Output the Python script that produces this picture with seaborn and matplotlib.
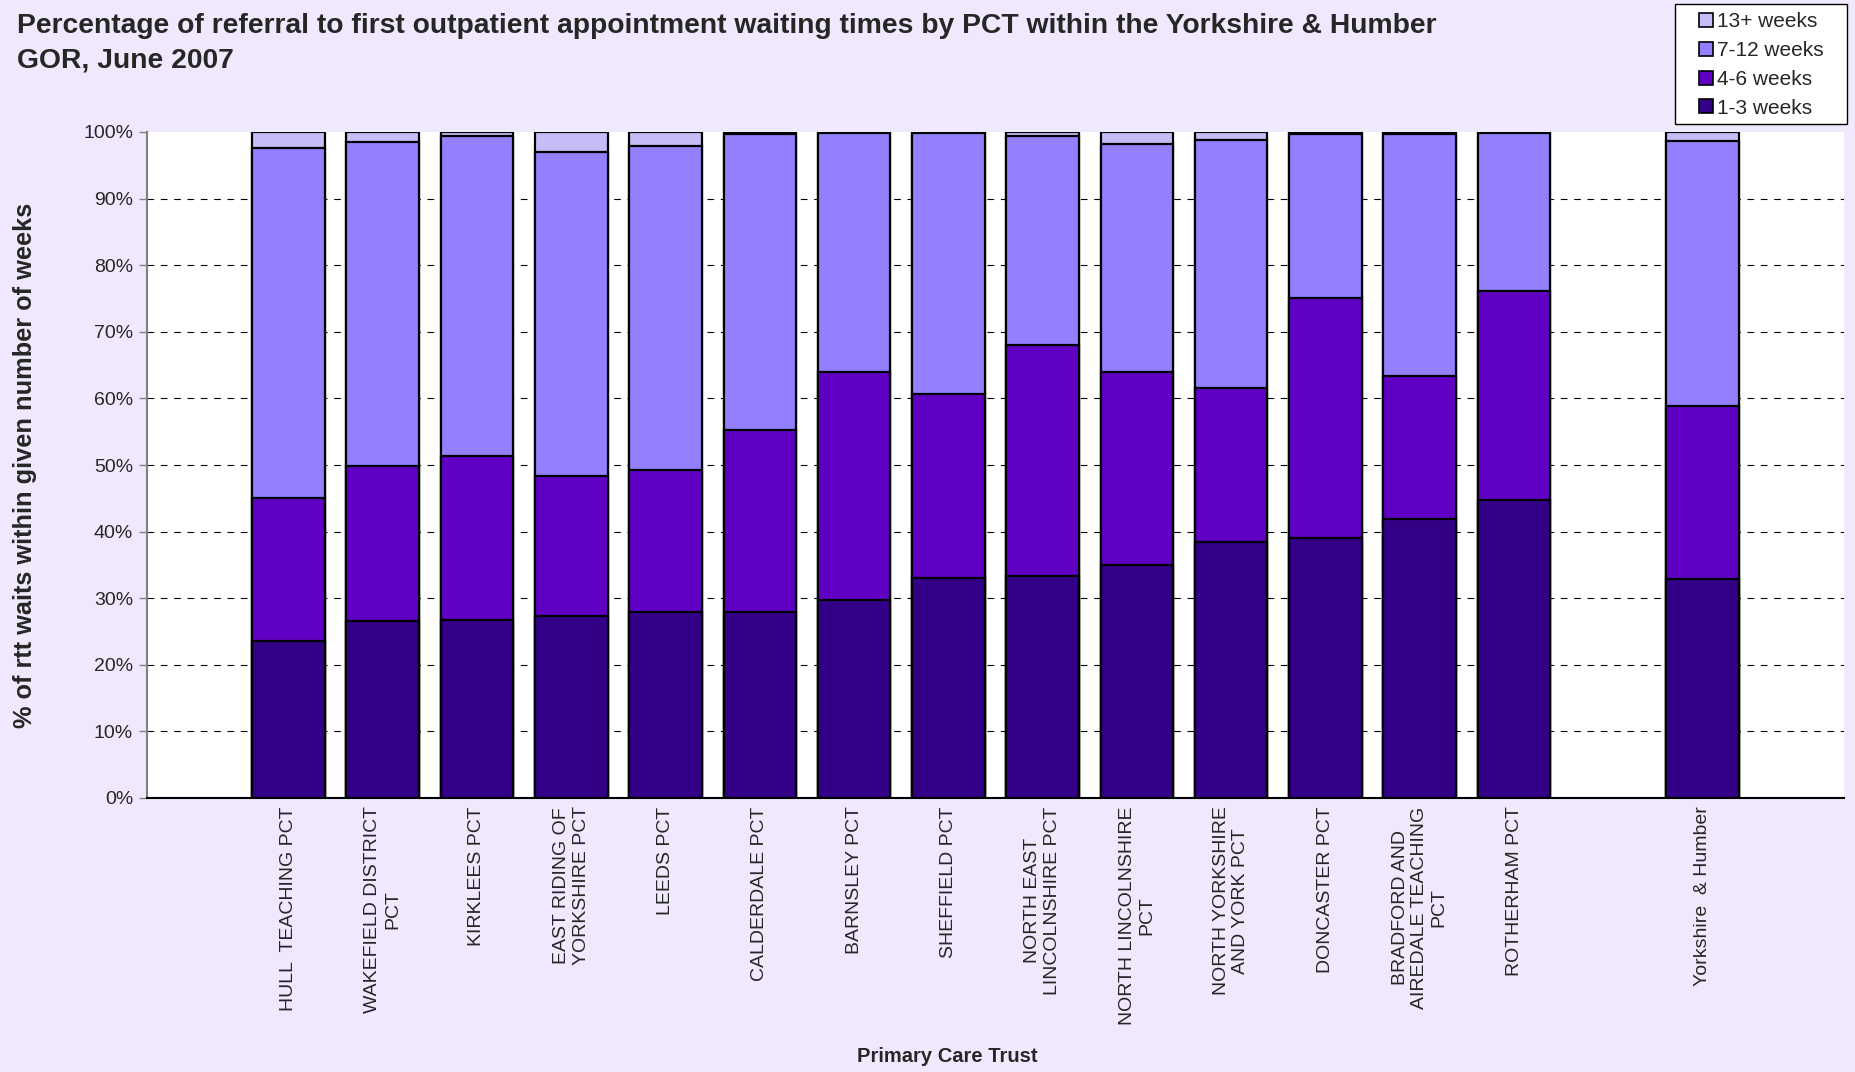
import numpy as np
import pandas as pd
import matplotlib
matplotlib.use("Agg")
import matplotlib.pyplot as plt
import seaborn as sns
from matplotlib.ticker import FixedLocator, PercentFormatter
from matplotlib.lines import Line2D
from matplotlib.patches import Rectangle

# -------------------------------
# Data (% of waits)
# -------------------------------
trusts = [
    "HULL  TEACHING PCT",
    "WAKEFIELD DISTRICT\nPCT",
    "KIRKLEES PCT",
    "EAST RIDING OF\nYORKSHIRE PCT",
    "LEEDS PCT",
    "CALDERDALE PCT",
    "BARNSLEY PCT",
    "SHEFFIELD PCT",
    "NORTH EAST\nLINCOLNSHIRE PCT",
    "NORTH LINCOLNSHIRE\nPCT",
    "NORTH YORKSHIRE\nAND YORK PCT",
    "DONCASTER PCT",
    "BRADFORD AND\nAIREDALE TEACHING\nPCT",
    "ROTHERHAM PCT",
    "Yorkshire  & Humber",
]

weeks_1_3 = [23.6, 26.6, 26.8, 27.4, 27.9, 27.9, 29.7, 33.0, 33.4, 35.0, 38.4, 39.1, 41.9, 44.8, 32.9]
weeks_4_6 = [21.5, 23.3, 24.5, 20.9, 21.3, 27.3, 34.2, 27.6, 34.6, 28.9, 23.1, 36.0, 21.5, 31.4, 25.9]
weeks_7_12 = [52.5, 48.6, 48.1, 48.7, 48.7, 44.45, 36.0, 39.3, 31.4, 34.3, 37.3, 24.6, 36.25, 23.7, 39.9]
weeks_13p = [2.4, 1.5, 0.6, 3.0, 2.1, 0.35, 0.1, 0.1, 0.6, 1.8, 1.2, 0.3, 0.35, 0.1, 1.3]

series_names = ["1-3 weeks", "4-6 weeks", "7-12 weeks", "13+ weeks"]
series_colors = ["#330088", "#6000C4", "#9380FF", "#C6BDF6"]

# slot order on the axis, with empty gaps
slots = ["gap0"] + trusts[:14] + ["gap1", trusts[14], "gap2"]

df = pd.DataFrame({
    "Trust": trusts,
    "1-3 weeks": weeks_1_3,
    "4-6 weeks": weeks_4_6,
    "7-12 weeks": weeks_7_12,
    "13+ weeks": weeks_13p,
})
cum = df[series_names].cumsum(axis=1)
cum["Trust"] = df["Trust"]

# -------------------------------
# Plot
# -------------------------------
sns.set_style("white")
plt.rcParams["font.family"] = ["Liberation Sans", "DejaVu Sans"]

W, H = 1856, 1072
fig = plt.figure(figsize=(W / 100, H / 100), dpi=100)
fig.patch.set_facecolor("#F0E9FD")
ax = fig.add_axes([147 / W, 1 - 798 / H, (1844 - 147) / W, (798 - 132) / H])
ax.set_facecolor("white")

# draw stacked bars as cumulative layers, tallest first
for name, color in reversed(list(zip(series_names, series_colors))):
    sns.barplot(data=cum, x="Trust", y=name, order=slots, color=color,
                width=0.77, edgecolor="black", linewidth=1.6,
                saturation=1, ax=ax, zorder=3)

ax.set_ylim(0, 100)
ax.set_xlim(-0.5, len(slots) - 0.5)
ax.yaxis.set_major_locator(FixedLocator(np.arange(0, 101, 10)))
ax.yaxis.set_major_formatter(PercentFormatter(decimals=0))
for y in range(10, 100, 10):
    ax.axhline(y, color="black", linestyle=(0, (6, 6)), linewidth=0.8, zorder=1)

# ticks at slot boundaries, labels at slot centres
ax.set_xticks(np.arange(-0.5, len(slots), 1))
ax.set_xticklabels([])
ax.set_xticks(np.arange(len(slots)), minor=True)
labels = ["" if s.startswith("gap") else s for s in slots]
ax.set_xticklabels(labels, minor=True, rotation=90, fontsize=14,
                   va="top", ha="center", multialignment="center")
ax.tick_params(axis="x", which="major", direction="out", length=6, width=1, color="black")
ax.tick_params(axis="x", which="minor", length=0, pad=6)
ax.tick_params(axis="y", direction="out", length=6, width=1, color="#808080",
               labelsize=14, left=True, pad=4)

for side in ["top", "right"]:
    ax.spines[side].set_visible(False)
ax.spines["left"].set_color("#808080")
ax.spines["left"].set_linewidth(1.5)
ax.spines["bottom"].set_color("black")
ax.spines["bottom"].set_linewidth(1.5)

ax.set_xlabel("")
ax.set_ylabel("% of rtt waits within given number of weeks", fontsize=18.3,
              fontweight="bold")
ax.yaxis.set_label_coords(-110 / 1697, 0.5)

fig.text(947 / W, 1 - 1057 / H, "Primary Care Trust", ha="center", va="center",
         fontsize=14.5, fontweight="bold")
fig.text(17 / W, 1 - 13 / H,
         "Percentage of referral to first outpatient appointment waiting times by PCT within the Yorkshire & Humber\nGOR, June 2007",
         ha="left", va="top", fontsize=20.3, fontweight="bold", linespacing=1.4)

# legend box drawn separately so its padding matches
fig.patches.append(Rectangle((1675 / W, 1 - 124 / H), 172 / W, 120 / H,
                             transform=fig.transFigure, facecolor="white",
                             edgecolor="black", linewidth=1.0, zorder=4))
handles = [Line2D([], [], linestyle="none", marker="s", markersize=10,
                  markerfacecolor=c, markeredgecolor="black", markeredgewidth=1.2, label=n)
           for n, c in zip(series_names, series_colors)]
leg = fig.legend(handles=handles[::-1], loc="upper left",
                 bbox_to_anchor=(1675 / W, 1 - 6 / H), fontsize=15,
                 frameon=False, handlelength=2.38, handletextpad=-0.66,
                 labelspacing=0.47, borderpad=0.3, borderaxespad=0)
leg.set_zorder(5)

fig.savefig("out.png", dpi=100, facecolor=fig.get_facecolor())
